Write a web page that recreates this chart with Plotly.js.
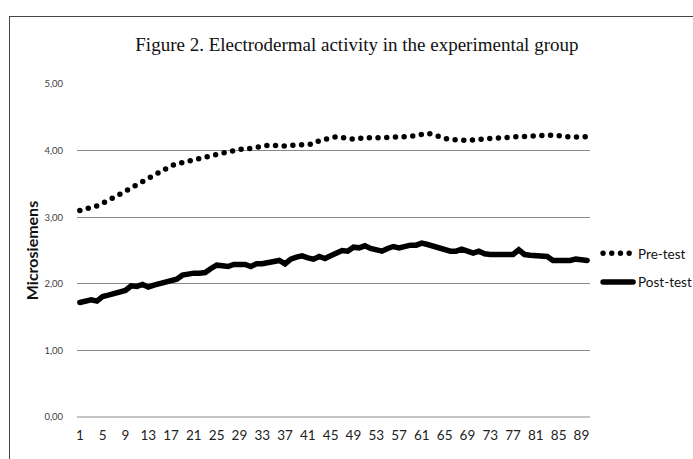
<!DOCTYPE html>
<html>
<head>
<meta charset="utf-8">
<script src="https://cdn.plot.ly/plotly-3.0.1.min.js"></script>
<style>
  html, body { margin: 0; padding: 0; background: #fff; }
  #wrap { position: relative; width: 693px; height: 459px; overflow: hidden; }
  #chart { position: absolute; left: 0; top: 0; width: 693px; height: 459px; }
  #frame { position: absolute; left: 9px; top: 16px; width: 700px; height: 460px;
           border-left: 1px solid #444; border-top: 1px solid #444; pointer-events: none; }
  .scatterlayer .js-line, .legend .js-line { stroke-linecap: round; }
</style>
</head>
<body>
<div id="wrap">
  <div id="chart"></div>
  <div id="frame"></div>
</div>
<script>
// ---- data ----
const chartTitle = "Figure 2. Electrodermal activity in the experimental group";
const yAxisTitle = "Microsiemens";
const seriesNames = ["Pre-test", "Post-test"];

const sessions = Array.from({length: 90}, (_, i) => i + 1);

const preTest = [
  3.10, 3.12, 3.15, 3.17, 3.21, 3.25, 3.29, 3.34, 3.39, 3.44,
  3.49, 3.54, 3.58, 3.62, 3.67, 3.72, 3.77, 3.80, 3.83, 3.84,
  3.86, 3.88, 3.90, 3.92, 3.94, 3.97, 3.99, 4.01, 4.02, 4.02,
  4.04, 4.06, 4.07, 4.08, 4.08, 4.07, 4.07, 4.08, 4.08, 4.09,
  4.10, 4.10, 4.15, 4.18, 4.19, 4.21, 4.20, 4.17, 4.17, 4.18,
  4.20, 4.19, 4.19, 4.19, 4.19, 4.19, 4.19, 4.20, 4.21, 4.23,
  4.25, 4.26, 4.24, 4.20, 4.18, 4.17, 4.16, 4.16, 4.15, 4.16,
  4.17, 4.19, 4.19, 4.19, 4.19, 4.20, 4.22, 4.21, 4.21, 4.22,
  4.22, 4.23, 4.23, 4.23, 4.23, 4.22, 4.20, 4.21, 4.22, 4.21
];

const postTest = [
  1.72, 1.74, 1.76, 1.74, 1.81, 1.83, 1.86, 1.87, 1.90, 1.97,
  1.96, 1.99, 1.95, 1.98, 2.00, 2.04, 2.04, 2.07, 2.13, 2.15,
  2.16, 2.16, 2.17, 2.23, 2.28, 2.27, 2.26, 2.29, 2.30, 2.29,
  2.26, 2.30, 2.30, 2.31, 2.32, 2.35, 2.30, 2.37, 2.40, 2.42,
  2.39, 2.37, 2.41, 2.38, 2.42, 2.46, 2.50, 2.49, 2.55, 2.54,
  2.57, 2.53, 2.51, 2.49, 2.53, 2.56, 2.54, 2.57, 2.58, 2.58,
  2.61, 2.59, 2.56, 2.53, 2.50, 2.49, 2.49, 2.52, 2.49, 2.46,
  2.49, 2.45, 2.44, 2.44, 2.43, 2.45, 2.44, 2.51, 2.44, 2.43,
  2.43, 2.41, 2.41, 2.35, 2.34, 2.35, 2.35, 2.37, 2.36, 2.35
];

const xTickVals = [1, 5, 9, 13, 17, 21, 25, 29, 33, 37, 41, 45, 49, 53, 57, 61, 65, 69, 73, 77, 81, 85, 89];
const yTickVals = [0, 1, 2, 3, 4, 5];

// ---- chart ----
const labelFont = "Lato, 'Open Sans', 'Liberation Sans', sans-serif";

const traces = [
  {
    x: sessions, y: preTest, name: seriesNames[0], type: "scatter", mode: "lines",
    legendgroup: "a",
    line: { color: "#000000", width: 5.5, dash: "0px,8.7px" },
    hoverinfo: "x+y"
  },
  {
    x: sessions, y: postTest, name: seriesNames[1], type: "scatter", mode: "lines",
    legendgroup: "b",
    line: { color: "#000000", width: 5.5 },
    hoverinfo: "x+y"
  }
];

const layout = {
  width: 693, height: 459,
  margin: { l: 77, r: 103, t: 84, b: 42, pad: 0, autoexpand: false },
  paper_bgcolor: "#ffffff", plot_bgcolor: "#ffffff",
  separators: ",.",
  showlegend: true,
  title: {
    text: chartTitle,
    font: { family: "'Liberation Serif', 'DejaVu Serif', serif", size: 19, color: "#111111" },
    x: 0.515, xref: "container", xanchor: "center",
    y: 0.903, yref: "container", yanchor: "middle"
  },
  xaxis: {
    range: [0.5, 90.5],
    tickmode: "array", tickvals: xTickVals, ticktext: xTickVals.map(String),
    showgrid: false, zeroline: false, showline: false,
    ticks: "outside", ticklen: 6, tickcolor: "rgba(0,0,0,0)",
    tickfont: { family: labelFont, size: 13.5, color: "#222222" },
    fixedrange: true
  },
  yaxis: {
    range: [0, 5],
    tickmode: "array", tickvals: yTickVals, tickformat: ".2f",
    showgrid: true, gridcolor: "#8a8a8a", gridwidth: 1,
    zeroline: true, zerolinecolor: "#c4c4c4", zerolinewidth: 2,
    showline: false,
    ticks: "outside", ticklen: 11, tickcolor: "rgba(0,0,0,0)",
    tickfont: { family: labelFont, size: 9.5, color: "#404040" },
    title: {
      text: yAxisTitle,
      font: { family: labelFont, size: 16, color: "#111111", weight: "bold" },
      standoff: 1
    },
    fixedrange: true
  },
  legend: {
    xref: "container", yref: "container",
    x: 0.863, xanchor: "left", y: 0.416, yanchor: "middle",
    font: { family: labelFont, size: 13.5, color: "#111111" },
    tracegroupgap: 8,
    bgcolor: "rgba(0,0,0,0)", borderwidth: 0
  }
};

Plotly.newPlot("chart", traces, layout, { staticPlot: true, displayModeBar: false });
</script>
</body>
</html>
